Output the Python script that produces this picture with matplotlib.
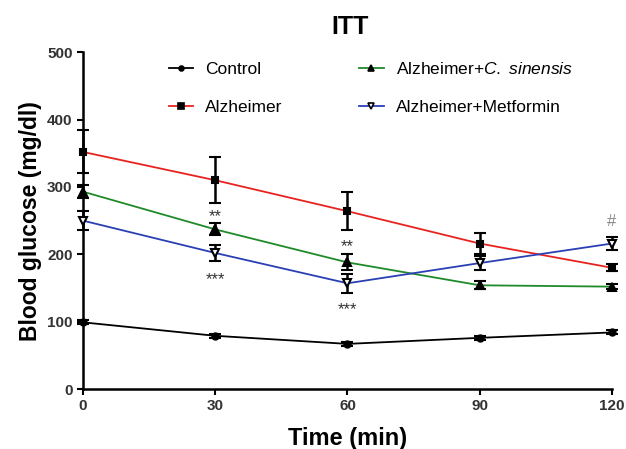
import matplotlib
matplotlib.use("Agg")
import matplotlib.pyplot as plt
from matplotlib.lines import Line2D

plt.rcParams['font.family'] = ['Liberation Sans', 'DejaVu Sans']
plt.rcParams['mathtext.fontset'] = 'custom'
plt.rcParams['mathtext.rm'] = 'Liberation Sans'
plt.rcParams['mathtext.it'] = 'Liberation Sans:italic'

time = [0, 30, 60, 90, 120]
control = [99, 79, 67, 76, 84]
control_err = [3, 3, 3, 3, 3]
alz = [352, 310, 264, 216, 180]
alz_err = [32, 34, 28, 16, 5]
cs = [293, 237, 188, 154, 152]
cs_err = [10, 9, 12, 6, 4]
met = [250, 202, 157, 187, 216]
met_err = [14, 12, 14, 10, 10]

series_names = ["Control", "Alzheimer", "Alzheimer+$\\it{C.\\ sinensis}$", "Alzheimer+Metformin"]

annot_x = [30, 30, 60, 60, 120]
annot_y = [256, 162, 211, 118, 248]
annot_txt = ["**", "***", "**", "***", "#"]

fig = plt.figure(figsize=(6.26, 4.49), dpi=100)
ax = fig.add_axes([0.1326, 0.1336, 0.845, 0.75])

specs = [
    (control, control_err, "black", "o", 4.5),
    (alz, alz_err, "#e8231f", "s", 5),
    (cs, cs_err, "#1f8a2a", "^", 5.5),
    (met, met_err, "#2b3fb5", "v", 6),
]
handles = []
for (y, e, c, m, ms), name in zip(specs, series_names):
    ax.plot(time, y, color=c, lw=1.3, zorder=2)
    mfc = "black" if m in ("o", "s", "^") else "white"
    ax.errorbar(time, y, yerr=e, fmt=m, color="black", ms=ms, mfc=mfc, mec="black",
                mew=1.5, elinewidth=1.8, capsize=4, capthick=1.8, zorder=3, clip_on=False)
    handles.append(Line2D([0], [0], color=c, lw=1.3, marker=m, ms=ms - 1, mfc=mfc,
                          mec="black", mew=1.2))

for x, y, t in zip(annot_x, annot_y, annot_txt):
    ax.text(x, y, t, ha="center", va="center", fontsize=12,
            color="#888888" if t == "#" else "#333333")

ax.set_xlim(0, 120)
ax.set_ylim(0, 500)
ax.set_xticks(time)
ax.set_yticks([0, 100, 200, 300, 400, 500])
for s in ["top", "right"]:
    ax.spines[s].set_visible(False)
for s in ["left", "bottom"]:
    ax.spines[s].set_linewidth(1.8)
ax.tick_params(width=1.5, length=4, labelsize=11, colors="black")
for lab in ax.get_xticklabels() + ax.get_yticklabels():
    lab.set_fontweight("bold")
    lab.set_color("#333333")

ax.set_xlabel("Time (min)", fontsize=17, fontweight="bold", labelpad=10)
ax.set_ylabel("Blood glucose (mg/dl)", fontsize=16.5, fontweight="bold", labelpad=4)
ax.set_title("ITT", fontsize=18, fontweight="bold", pad=13, x=0.505)

ax.legend(handles, series_names, ncol=2, frameon=False, fontsize=12.5,
          loc="upper left", bbox_to_anchor=(0.133, 1.02), columnspacing=4.4,
          handlelength=1.4, handletextpad=0.7, labelspacing=1.3)

fig.savefig("out.png", dpi=100)
